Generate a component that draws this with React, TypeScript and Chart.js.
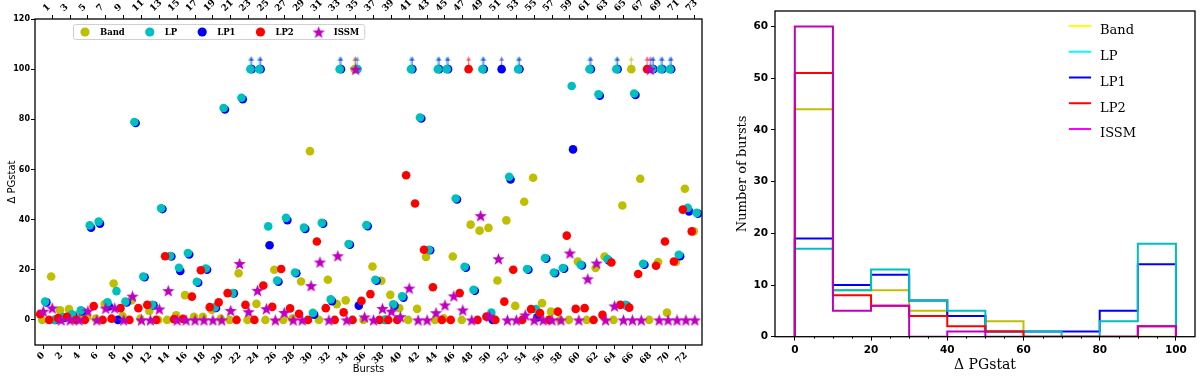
import React, { useEffect, useRef } from 'react';
import { Chart, registerables } from 'chart.js';
Chart.register(...registerables);

// ---------------- data: left panel (Δ PGstat per burst) ----------------
const bursts = [0,1,2,3,4,5,6,7,8,9,10,11,12,13,14,15,16,17,18,19,20,21,22,23,24,25,26,27,28,29,30,31,32,33,34,35,36,37,38,39,40,41,42,43,44,45,46,47,48,49,50,51,52,53,54,55,56,57,58,59,60,61,62,63,64,65,66,67,68,69,70,71,72,73];

const bandDelta = [0,17.3,3.8,4.3,2,1,0.5,6.3,14.5,1.5, 7.8,0.5,3.6,0,0,1.8,9.9,1.2,1.2,4, 0.5,0,18.6,0,6.4,0,20,0,0.5,15.3, 67.3,0,16,6.3,7.8,100,0,21.3,15.6,10, 4.7,0,4.4,25.1,0,0.6,25.3,0,38,35.6, 36.7,15.7,39.7,5.6,47.1,56.7,6.7,3.3,0,0, 23.3,0,20.7,25.3,0,45.6,100,56.3,0,23.1, 2.9,23.1,52.3,35.3];
const lpDelta = [7.3,0,1.1,2.2,3.8,37.7,39.2,7,11.5,7.3, 78.9,17.3,6,44.5,25.5,20.8,26.7,15.2,20.5,5, 84.5,10.7,88.6,100,100,37.3,15.7,40.7,18.9,36.8, 2.8,38.7,8.2,100,30.3,100,37.8,16,0,6.2, 9.4,100,80.7,28,100,100,48.4,21.2,12,100, 2.9,null,57.1,100,20.3,4.3,24.7,18.9,20.7,93.3, 22,100,90,24.3,100,6,90.3,22.4,100,100, 100,26,44.7,42.7];
const lp1Delta = [7,0,0.8,1.6,3.4,36.8,38.4,5.4,0,7, 78.5,17,5.8,44.2,25.3,19.5,26.1,14.8,20,4.8, 83.9,10.6,88,100,100,29.8,15.2,39.8,18.6,36.3, 2.1,38.4,7.5,100,30,5.7,37.4,15.6,0,5.7, 8.9,100,80.3,27.8,100,100,48,20.8,11.6,100, 0,100,56,100,20,1,24.4,18.6,20.4,68, 21.7,100,89.4,23.7,100,5.7,89.7,22,100,100, 100,25.4,43.3,42.4];
const lp2Delta = [2.3,0,0.7,1.2,0,0,5.5,0,0.5,4.7, 0,4.7,6,0,25.4,0.3,0.4,9.3,19.8,5.1, 7,10.7,0,6,0,13.7,5.2,20.3,4.6,2.4, 0,31.3,4.7,0,3,0,7.6,10.3,0,0, 0,57.7,46.4,28,13,0,0,10.7,100,0, 1.3,0,7.3,20,0,4.3,2.7,0,3.3,33.6, 4.4,4.7,0,2,22.9,6,4.9,18.3,100,21.6, 31.3,23.3,44,35.3];
const issmDelta = [3.5,4.8,0,0,0,3.6,0,4.7,4.8,0, 9.5,0,0,4.4,11.7,0,0,0,0,0, 0,3.8,22.5,3.3,11.8,4.5,0,3,0,0, 13.7,23.1,0,25.6,0,100,1.2,0,4.6,3.5, 1.3,12.7,0,0,2.9,6,9.6,4,0,41.6, 1.5,24.4,0,0,2,0,0,0,0,26.7, 0,16.4,22.7,0,5.6,0,0,0,100,0, 0,0,0,0];

const bottomTicks = [0,2,4,6,8,10,12,14,16,18,20,22,24,26,28,30,32,34,36,38,40,42,44,46,48,50,52,54,56,58,60,62,64,66,68,70,72];
const topTicks = [1,3,5,7,9,11,13,15,17,19,21,23,25,27,29,31,33,35,37,39,41,43,45,47,49,51,53,55,57,59,61,63,65,67,69,71,73];
const leftYTicks = [0,20,40,60,80,100,120];
const cappedValue = 100;

// ---------------- data: right panel (histogram) ----------------
const binEdges = [0,10,20,30,40,50,60,70,80,90,100];
const histBand = [44,9,9,5,4,3,0,0,0,0];
const histLP = [17,9,13,7,5,1,1,0,3,18];
const histLP1 = [19,10,12,7,4,1,1,1,5,14];
const histLP2 = [51,8,6,4,2,1,0,0,0,2];
const histISSM = [60,5,6,0,1,0,0,0,0,2];
const histXTicks = [0,20,40,60,80,100];
const histXMinorTicks = [5,10,15,25,30,35,45,50,55,65,70,75,85,90,95];
const histYTicks = [0,10,20,30,40,50,60];

const seriesNames = ['Band','LP','LP1','LP2','ISSM'];

// ---------------- styles ----------------
const COLORS: Record<string,string> = { Band:'#bfbf00', LP:'#00bfbf', LP1:'#0000ff', LP2:'#ff0000', ISSM:'#bf00bf' };
const ARROWS: Record<string,string> = { Band:'rgba(191,191,0,0.55)', LP:'rgba(0,191,191,0.55)', LP1:'rgba(0,0,255,0.45)', LP2:'rgba(255,0,0,0.5)', ISSM:'rgba(191,0,191,0.5)' };
const OFFSETS: Record<string,number> = { Band:-0.12, LP:0.2, LP1:0.35, LP2:-0.35, ISSM:0 };
const ORDER: Record<string,number> = { ISSM:1, LP2:2, LP:3, LP1:4, Band:5 };
const HIST_LEGEND: Record<string,string> = { Band:'#ffff00', LP:'#00ffff', LP1:'#0000ff', LP2:'#ff0000', ISSM:'#ff00ff' };

function makeStar(size: number, color: string) {
  const c = document.createElement('canvas');
  c.width = size; c.height = size;
  const ctx = c.getContext('2d')!;
  const cx = size / 2, cy = size / 2 + size * 0.05, R = size / 2, r = R * 0.42;
  ctx.beginPath();
  for (let k = 0; k < 10; k++) {
    const rad = k % 2 === 0 ? R : r;
    const a = -Math.PI / 2 + k * Math.PI / 5;
    const px = cx + rad * Math.cos(a), py = cy + rad * Math.sin(a);
    if (k === 0) ctx.moveTo(px, py); else ctx.lineTo(px, py);
  }
  ctx.closePath();
  ctx.fillStyle = color;
  ctx.fill();
  return c;
}

const framePlugin = {
  id: 'frame',
  afterDatasetsDraw(chart: any) {
    const { ctx, chartArea: a } = chart;
    ctx.save();
    ctx.strokeStyle = '#000';
    ctx.lineWidth = 1.3;
    ctx.strokeRect(a.left, a.top, a.right - a.left, a.bottom - a.top);
    ctx.restore();
  },
};

const minorTickPlugin = {
  id: 'minorTicks',
  afterDraw(chart: any) {
    const { ctx, chartArea: a } = chart;
    const xs = chart.scales.x;
    ctx.save();
    ctx.strokeStyle = '#000';
    ctx.lineWidth = 1;
    histXMinorTicks.forEach((v) => {
      const px = Math.round(xs.getPixelForValue(v)) + 0.5;
      ctx.beginPath(); ctx.moveTo(px, a.bottom); ctx.lineTo(px, a.bottom + 2); ctx.stroke();
    });
    ctx.restore();
  },
};

const arrowPlugin = {
  id: 'capArrows',
  afterDatasetsDraw(chart: any) {
    const { ctx } = chart;
    const xs = chart.scales.x, ys = chart.scales.y;
    ctx.save();
    chart.data.datasets.forEach((ds: any) => {
      ds.data.forEach((p: any) => {
        if (p.y < cappedValue) return;
        const px = xs.getPixelForValue(p.x);
        const py = ys.getPixelForValue(p.y);
        const tip = py - 13;
        ctx.strokeStyle = ds.arrowColor;
        ctx.fillStyle = ds.arrowColor;
        ctx.lineWidth = 1.3;
        ctx.beginPath(); ctx.moveTo(px, py - 4); ctx.lineTo(px, tip + 3); ctx.stroke();
        ctx.beginPath(); ctx.moveTo(px, tip); ctx.lineTo(px - 2.6, tip + 4.5); ctx.lineTo(px + 2.6, tip + 4.5); ctx.closePath(); ctx.fill();
      });
    });
    ctx.restore();
  },
};

function makeLeftLegend(star: HTMLCanvasElement) {
  return {
    id: 'leftLegend',
    afterDraw(chart: any) {
      const { ctx, chartArea: a } = chart;
      ctx.save();
      ctx.font = 'bold 8.5px "DejaVu Serif"';
      const boxL = a.left + 38, boxT = a.top + 5, boxH = 15;
      const items: any[] = [];
      let mx = boxL + 12;
      seriesNames.forEach((n) => {
        const tx = mx + 15;
        const w = ctx.measureText(n).width;
        items.push({ n, mx, tx });
        mx = tx + w + 25;
      });
      const last = items[items.length - 1];
      const boxR = last.tx + ctx.measureText(last.n).width + 5;
      ctx.fillStyle = 'rgba(255,255,255,0.85)';
      ctx.strokeStyle = '#d0d0d0';
      ctx.lineWidth = 1;
      ctx.beginPath();
      (ctx as any).roundRect(boxL + 0.5, boxT + 0.5, boxR - boxL, boxH, 2);
      ctx.fill(); ctx.stroke();
      const cy = boxT + boxH / 2 + 0.5;
      items.forEach((it) => {
        if (it.n === 'ISSM') {
          ctx.drawImage(star, it.mx - star.width / 2, cy - star.height / 2);
        } else {
          ctx.fillStyle = COLORS[it.n];
          ctx.beginPath(); ctx.arc(it.mx, cy, 4.6, 0, Math.PI * 2); ctx.fill();
        }
        ctx.fillStyle = '#000';
        ctx.textBaseline = 'middle';
        ctx.textAlign = 'left';
        ctx.fillText(it.n, it.tx, cy + 0.5);
      });
      ctx.restore();
    },
  };
}

const histLegend = {
  id: 'histLegend',
  afterDraw(chart: any) {
    const { ctx, chartArea: a } = chart;
    ctx.save();
    ctx.font = '13px "DejaVu Serif"';
    ctx.textBaseline = 'middle';
    ctx.textAlign = 'left';
    seriesNames.forEach((n, i) => {
      const y = a.top + 15 + i * 25.75;
      ctx.strokeStyle = HIST_LEGEND[n];
      ctx.lineWidth = 2;
      ctx.beginPath(); ctx.moveTo(a.right - 126, y); ctx.lineTo(a.right - 104, y); ctx.stroke();
      ctx.fillStyle = '#000';
      ctx.fillText(n, a.right - 95, y + 5);
    });
    ctx.restore();
  },
};

const tickGrid = { display: true, drawOnChartArea: false, drawTicks: true, tickLength: 4, color: '#000', lineWidth: 1 };

export default function App() {
  const leftRef = useRef<HTMLCanvasElement>(null);
  const rightRef = useRef<HTMLCanvasElement>(null);

  useEffect(() => {
    Chart.defaults.font.family = '"DejaVu Sans"';
    Chart.defaults.color = '#000';
    const star = makeStar(13, COLORS.ISSM);
    const values: Record<string, (number | null)[]> = { Band: bandDelta, LP: lpDelta, LP1: lp1Delta, LP2: lp2Delta, ISSM: issmDelta };

    const scatterSets = seriesNames.map((n) => ({
      label: n,
      data: bursts
        .map((b, i) => ({ x: b + OFFSETS[n], y: values[n][i] }))
        .filter((p) => p.y !== null),
      backgroundColor: COLORS[n],
      borderColor: COLORS[n],
      borderWidth: 0,
      pointRadius: n === 'ISSM' ? 6.5 : 4.3,
      pointStyle: n === 'ISSM' ? star : 'circle',
      showLine: false,
      order: ORDER[n],
      arrowColor: ARROWS[n],
    }));

    const left = new Chart(leftRef.current!, {
      type: 'scatter',
      data: { datasets: scatterSets as any },
      options: {
        responsive: false,
        animation: false,
        events: [],
        layout: { padding: { left: 0, right: 18, top: 0, bottom: 0 } },
        plugins: { legend: { display: false }, tooltip: { enabled: false } },
        scales: {
          x: {
            type: 'linear', position: 'bottom', min: -0.93, max: 73.8,
            afterBuildTicks: (s: any) => { s.ticks = bottomTicks.map((v) => ({ value: v })); },
            ticks: { autoSkip: false, minRotation: 45, maxRotation: 45, padding: 1, font: { family: '"DejaVu Serif"', weight: 'bold', size: 9 }, color: '#000', callback: (v: any) => String(v) },
            grid: tickGrid as any,
            border: { display: false },
            title: { display: true, text: 'Bursts', font: { size: 10 }, color: '#000', padding: { top: 0, bottom: 1 } },
            afterFit: (s: any) => { s.height = 31; },
          },
          x2: {
            type: 'linear', position: 'top', min: -0.93, max: 73.8,
            afterBuildTicks: (s: any) => { s.ticks = topTicks.map((v) => ({ value: v })); },
            ticks: { autoSkip: false, minRotation: 45, maxRotation: 45, padding: 1, font: { family: '"DejaVu Serif"', weight: 'bold', size: 9 }, color: '#000', callback: (v: any) => String(v) },
            grid: tickGrid as any,
            border: { display: false },
            afterFit: (s: any) => { s.height = 19; },
          },
          y: {
            type: 'linear', min: -10, max: 120,
            afterBuildTicks: (s: any) => { s.ticks = leftYTicks.map((v) => ({ value: v })); },
            ticks: { padding: 1, font: { weight: 'bold', size: 8 }, color: '#000' },
            grid: tickGrid as any,
            border: { display: false },
            title: { display: true, text: 'Δ PGstat', font: { size: 10 }, color: '#000', padding: { top: 6, bottom: 0 } },
            afterFit: (s: any) => { s.width = 35; },
          },
        },
      } as any,
      plugins: [arrowPlugin, framePlugin, makeLeftLegend(star)],
    });

    const hist: Record<string, number[]> = { Band: histBand, LP: histLP, LP1: histLP1, LP2: histLP2, ISSM: histISSM };
    const histSets = seriesNames.map((n) => ({
      label: n,
      data: [
        { x: binEdges[0], y: 0 },
        ...hist[n].map((c, i) => ({ x: binEdges[i], y: c })),
        { x: binEdges[binEdges.length - 1], y: 0 },
      ],
      borderColor: COLORS[n],
      backgroundColor: COLORS[n],
      borderWidth: 2,
      pointRadius: 0,
      stepped: 'before',
      fill: false,
      order: ORDER[n],
    }));

    const right = new Chart(rightRef.current!, {
      type: 'line',
      data: { datasets: histSets as any },
      options: {
        responsive: false,
        animation: false,
        events: [],
        layout: { padding: { left: 0, right: 5, top: 11, bottom: 0 } },
        plugins: { legend: { display: false }, tooltip: { enabled: false } },
        scales: {
          x: {
            type: 'linear', min: -5.2, max: 105,
            afterBuildTicks: (s: any) => { s.ticks = histXTicks.map((v) => ({ value: v })); },
            ticks: { padding: 3, maxRotation: 0, font: { weight: 'bold', size: 10.5 }, color: '#000' },
            grid: tickGrid as any,
            border: { display: false },
            title: { display: true, text: 'Δ PGstat', font: { family: '"DejaVu Serif"', size: 14 }, color: '#000', padding: { top: 0, bottom: 2.6 } },
            afterFit: (s: any) => { s.height = 39.3; },
          },
          y: {
            type: 'linear', min: 0, max: 63,
            afterBuildTicks: (s: any) => { s.ticks = histYTicks.map((v) => ({ value: v })); },
            ticks: { padding: 3, font: { weight: 'bold', size: 10.5 }, color: '#000' },
            grid: tickGrid as any,
            border: { display: false },
            title: { display: true, text: 'Number of bursts', font: { family: '"DejaVu Serif"', size: 13 }, color: '#000', padding: { top: 15, bottom: 0 } },
            afterFit: (s: any) => { s.width = 55; },
          },
        },
      } as any,
      plugins: [framePlugin, minorTickPlugin, histLegend],
    });

    return () => { left.destroy(); right.destroy(); };
  }, []);

  return (
    <div style={{ position: 'absolute', left: 0, top: 0, width: 1200, height: 376, background: '#fff' }}>
      <canvas ref={leftRef} width={720} height={376} style={{ position: 'absolute', left: 0, top: 0, width: 720, height: 376 }} />
      <canvas ref={rightRef} width={480} height={376} style={{ position: 'absolute', left: 720, top: 0, width: 480, height: 376 }} />
    </div>
  );
}
